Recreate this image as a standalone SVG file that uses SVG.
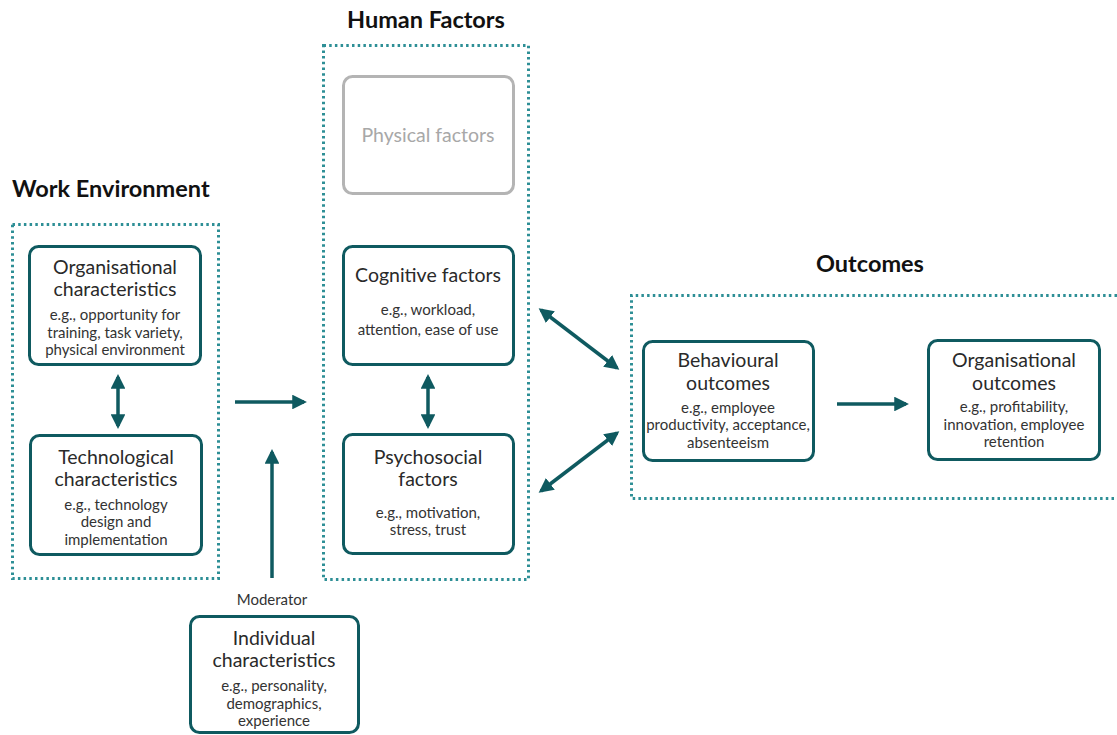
<svg xmlns="http://www.w3.org/2000/svg" width="1117" height="735" viewBox="0 0 1117 735">
<defs>
<marker id="ah" viewBox="0 0 10 10" refX="8" refY="5" markerWidth="4.2" markerHeight="4.2" orient="auto-start-reverse" markerUnits="strokeWidth">
<path d="M0,0 L10,5 L0,10 z" fill="#0f5a60"/>
</marker>
<style>
.grp{fill:none;stroke:#2e8f96;stroke-width:3;stroke-dasharray:2.5 3.2}
.box{fill:#fff;stroke:#0f5a60;stroke-width:3}
.gbox{fill:#fff;stroke:#b4b4b4;stroke-width:3}
.hd{font-family:Lato,"Liberation Sans",sans-serif;font-weight:bold;font-size:23.5px;fill:#111}
.t{font-family:Lato,"Liberation Sans",sans-serif;font-size:19.5px;fill:#2a2a2a;text-anchor:middle}
.s{font-family:Lato,"Liberation Sans",sans-serif;font-size:15px;fill:#333;text-anchor:middle}
.c{fill:none;stroke:#0f5a60;stroke-width:3.5;marker-end:url(#ah)}
.d{fill:none;stroke:#0f5a60;stroke-width:3.5;marker-end:url(#ah);marker-start:url(#ah)}
</style>
</defs>
<rect width="1117" height="735" fill="#fff"/>
<g id="groups">
<rect class="grp" x="12.5" y="224.5" width="206" height="354"/>
<rect class="grp" x="323.5" y="45.5" width="205" height="534"/>
<path class="grp" d="M1117,295.5 H631.5 V498.5 H1117"/>
<text class="hd" x="12" y="197">Work Environment</text>
<text class="hd" x="426" y="28" text-anchor="middle">Human Factors</text>
<text class="hd" x="870" y="272" text-anchor="middle">Outcomes</text>
</g>
<g id="connectors">
<line class="d" x1="118" y1="377" x2="118" y2="426"/>
<line class="d" x1="428" y1="377" x2="428" y2="426"/>
<line class="c" x1="235" y1="402" x2="304" y2="402"/>
<line class="c" x1="272" y1="578" x2="272" y2="452"/>
<line class="d" x1="541" y1="310" x2="617" y2="368"/>
<line class="d" x1="541" y1="491" x2="617" y2="433"/>
<line class="c" x1="837" y1="404" x2="906" y2="404"/>
<text class="s" x="272" y="605">Moderator</text>
</g>
<g id="org-char">
<rect class="box" x="29.5" y="246.5" width="171" height="118" rx="9"/>
<text class="t" x="115" y="274">Organisational</text>
<text class="t" x="115" y="296">characteristics</text>
<text class="s" x="115" y="320">e.g., opportunity for</text>
<text class="s" x="115" y="338">training, task variety,</text>
<text class="s" x="115" y="355">physical environment</text>
</g>
<g id="tech-char">
<rect class="box" x="30.5" y="435.5" width="171" height="119" rx="9"/>
<text class="t" x="116" y="464">Technological</text>
<text class="t" x="116" y="486">characteristics</text>
<text class="s" x="116" y="510">e.g., technology</text>
<text class="s" x="116" y="527">design and</text>
<text class="s" x="116" y="545">implementation</text>
</g>
<g id="physical">
<rect class="gbox" x="343.5" y="76.5" width="170" height="117" rx="9"/>
<text class="t" x="428" y="142" style="fill:#a8a8a8">Physical factors</text>
</g>
<g id="cognitive">
<rect class="box" x="343.5" y="246.5" width="170" height="118" rx="9"/>
<text class="t" x="428" y="282">Cognitive factors</text>
<text class="s" x="428" y="315">e.g., workload,</text>
<text class="s" x="428" y="335">attention, ease of use</text>
</g>
<g id="psychosocial">
<rect class="box" x="343.5" y="434.5" width="170" height="119" rx="9"/>
<text class="t" x="428" y="464">Psychosocial</text>
<text class="t" x="428" y="486">factors</text>
<text class="s" x="428" y="518">e.g., motivation,</text>
<text class="s" x="428" y="535">stress, trust</text>
</g>
<g id="behavioural">
<rect class="box" x="643.5" y="341.5" width="170" height="119" rx="9"/>
<text class="t" x="728" y="367">Behavioural</text>
<text class="t" x="728" y="390">outcomes</text>
<text class="s" x="728" y="413">e.g., employee</text>
<text class="s" x="728" y="430">productivity, acceptance,</text>
<text class="s" x="728" y="448">absenteeism</text>
</g>
<g id="org-outcomes">
<rect class="box" x="928.5" y="340.5" width="171" height="119" rx="9"/>
<text class="t" x="1014" y="367">Organisational</text>
<text class="t" x="1014" y="390">outcomes</text>
<text class="s" x="1014" y="412">e.g., profitability,</text>
<text class="s" x="1014" y="430">innovation, employee</text>
<text class="s" x="1014" y="447">retention</text>
</g>
<g id="individual">
<rect class="box" x="190.5" y="616.5" width="168" height="116" rx="9"/>
<text class="t" x="274" y="645">Individual</text>
<text class="t" x="274" y="667">characteristics</text>
<text class="s" x="274" y="691">e.g., personality,</text>
<text class="s" x="274" y="709">demographics,</text>
<text class="s" x="274" y="726">experience</text>
</g>
</svg>
